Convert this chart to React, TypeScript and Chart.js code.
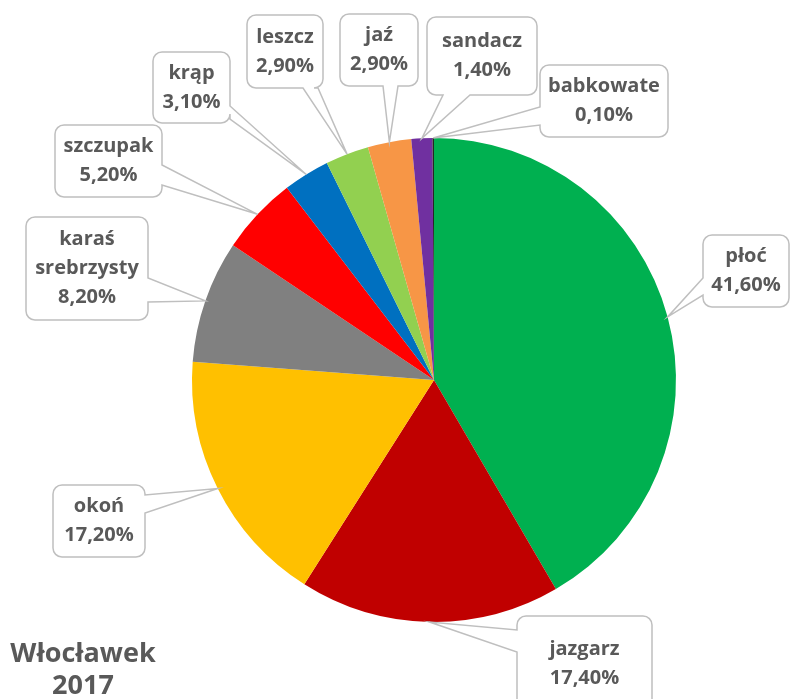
import React, { useEffect, useRef } from "react";
import { Chart, registerables } from "chart.js";

Chart.register(...registerables);

const categories = [
  "płoć",
  "jazgarz",
  "okoń",
  "karaś\nsrebrzysty",
  "szczupak",
  "krąp",
  "leszcz",
  "jaź",
  "sandacz",
  "babkowate",
];
const shares = [41.6, 17.4, 17.2, 8.2, 5.2, 3.1, 2.9, 2.9, 1.4, 0.1];
const sliceColors = [
  "#00B050",
  "#C00000",
  "#FFC000",
  "#808080",
  "#FF0000",
  "#0070C0",
  "#92D050",
  "#F79646",
  "#7030A0",
  "#262626",
];
const titleLines = ["Włocławek", "2017"];

// callout box layout: x, y, w, h, side the pointer leaves from, base span along that side
type Box = { x: number; y: number; w: number; h: number; side: "left" | "right" | "bottom"; b1: number; b2: number };
const boxes: Box[] = [
  { x: 703, y: 235, w: 86, h: 72, side: "left", b1: 278, b2: 295 },
  { x: 517, y: 616, w: 135, h: 95, side: "left", b1: 630, b2: 652 },
  { x: 53, y: 485, w: 92, h: 72, side: "right", b1: 495, b2: 513 },
  { x: 26, y: 217, w: 122, h: 103, side: "right", b1: 278, b2: 302 },
  { x: 55, y: 125, w: 107, h: 72, side: "right", b1: 165, b2: 185 },
  { x: 153, y: 52, w: 77, h: 71, side: "right", b1: 106, b2: 119 },
  { x: 247, y: 15, w: 76, h: 73, side: "bottom", b1: 303, b2: 318 },
  { x: 340, y: 14, w: 78, h: 72, side: "bottom", b1: 383, b2: 398 },
  { x: 427, y: 17, w: 110, h: 78, side: "bottom", b1: 443, b2: 470 },
  { x: 540, y: 65, w: 128, h: 72, side: "left", b1: 107, b2: 125 },
];

const fmt = (v: number) => v.toFixed(2).replace(".", ",") + "%";

const calloutPlugin = {
  id: "callouts",
  afterDatasetsDraw(chart: any) {
    const ctx = chart.ctx as CanvasRenderingContext2D;
    const meta = chart.getDatasetMeta(0);
    meta.data.forEach((arc: any, i: number) => {
      const b = boxes[i];
      if (!b) return;
      const p = arc.getProps(["x", "y", "startAngle", "endAngle", "outerRadius"], true);
      const mid = (p.startAngle + p.endAngle) / 2;
      const tx = p.x + Math.cos(mid) * p.outerRadius;
      const ty = p.y + Math.sin(mid) * p.outerRadius;
      const r = 9;
      const { x, y, w, h } = b;
      ctx.save();
      ctx.beginPath();
      ctx.moveTo(x + r, y);
      ctx.lineTo(x + w - r, y);
      ctx.arcTo(x + w, y, x + w, y + r, r);
      if (b.side === "right") {
        ctx.lineTo(x + w, b.b1);
        ctx.lineTo(tx, ty);
        ctx.lineTo(x + w, b.b2);
      }
      ctx.lineTo(x + w, y + h - r);
      ctx.arcTo(x + w, y + h, x + w - r, y + h, r);
      if (b.side === "bottom") {
        ctx.lineTo(b.b2, y + h);
        ctx.lineTo(tx, ty);
        ctx.lineTo(b.b1, y + h);
      }
      ctx.lineTo(x + r, y + h);
      ctx.arcTo(x, y + h, x, y + h - r, r);
      if (b.side === "left") {
        ctx.lineTo(x, b.b2);
        ctx.lineTo(tx, ty);
        ctx.lineTo(x, b.b1);
      }
      ctx.lineTo(x, y + r);
      ctx.arcTo(x, y, x + r, y, r);
      ctx.closePath();
      ctx.fillStyle = "#FFFFFF";
      ctx.fill();
      ctx.strokeStyle = "#BFBFBF";
      ctx.lineWidth = 1.5;
      ctx.stroke();

      const lines = [...String(chart.data.labels[i]).split("\n"), fmt(chart.data.datasets[0].data[i])];
      ctx.fillStyle = "#595959";
      ctx.font = "bold 20px 'Open Sans'";
      ctx.textAlign = "center";
      ctx.textBaseline = "middle";
      const lh = 29;
      const cx = x + w / 2;
      const cy = y + h / 2 - ((lines.length - 1) * lh) / 2;
      lines.forEach((t, k) => ctx.fillText(t, cx, cy + k * lh));
      ctx.restore();
    });
  },
};

export default function App() {
  const ref = useRef<HTMLCanvasElement | null>(null);
  useEffect(() => {
    if (!ref.current) return;
    const chart = new Chart(ref.current, {
      type: "pie",
      data: {
        labels: categories,
        datasets: [
          {
            data: shares,
            backgroundColor: sliceColors,
            borderWidth: 0,
          },
        ],
      },
      options: {
        responsive: false,
        animation: false,
        layout: { padding: { left: 192, right: 114, top: 138, bottom: 77 } },
        plugins: {
          legend: { display: false },
          tooltip: { enabled: false },
        },
      },
      plugins: [calloutPlugin],
    });
    return () => chart.destroy();
  }, []);

  return (
    <div style={{ position: "fixed", left: 0, top: 0, width: 790, height: 699, background: "#fff", overflow: "hidden" }}>
      <canvas ref={ref} width={790} height={699} style={{ display: "block" }} />
      <div
        style={{
          position: "absolute",
          left: 3,
          top: 636,
          width: 160,
          textAlign: "center",
          fontFamily: "'Open Sans', sans-serif",
          fontWeight: 700,
          fontSize: 27,
          lineHeight: "32px",
          color: "#595959",
        }}
      >
        {titleLines.map((t) => (
          <div key={t}>{t}</div>
        ))}
      </div>
    </div>
  );
}
